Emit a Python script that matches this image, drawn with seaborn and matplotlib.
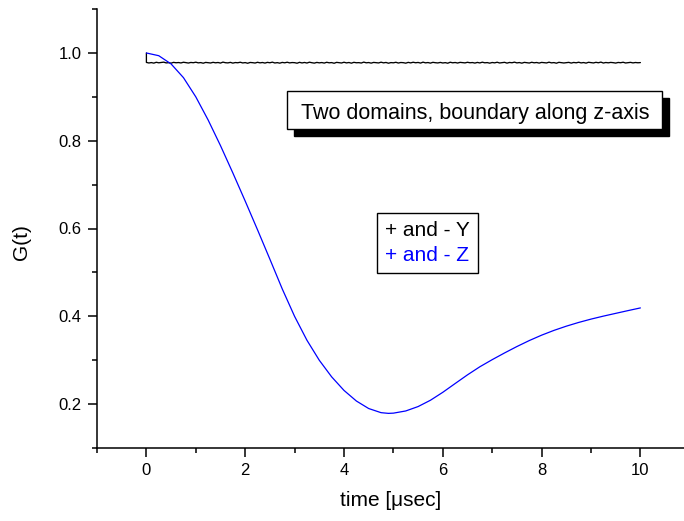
import numpy as np
import pandas as pd
import matplotlib
matplotlib.use("Agg")
import matplotlib.pyplot as plt
from matplotlib.patches import Rectangle
from matplotlib.ticker import MultipleLocator
import seaborn as sns

# ---- data ----
# "+ and - Y": flat noisy trace (first point 1.0 at t=0)
y_time = [0.0] + list(np.round(np.linspace(0, 10, 201), 2))
y_vals = [1.0,
    0.9785, 0.9772, 0.9781, 0.9769, 0.9788, 0.9776, 0.9783, 0.9791, 0.9774, 0.9779,
    0.9768, 0.9786, 0.9777, 0.9782, 0.9773, 0.9789, 0.9780, 0.9771, 0.9784, 0.9778,
    0.9790, 0.9775, 0.9781, 0.9767, 0.9785, 0.9779, 0.9772, 0.9787, 0.9776, 0.9783,
    0.9770, 0.9792, 0.9778, 0.9774, 0.9786, 0.9769, 0.9782, 0.9777, 0.9789, 0.9773,
    0.9781, 0.9766, 0.9784, 0.9779, 0.9771, 0.9788, 0.9775, 0.9783, 0.9770, 0.9786,
    0.9777, 0.9791, 0.9772, 0.9780, 0.9768, 0.9785, 0.9776, 0.9789, 0.9774, 0.9782,
    0.9779, 0.9767, 0.9787, 0.9773, 0.9784, 0.9771, 0.9790, 0.9778, 0.9769, 0.9785,
    0.9775, 0.9782, 0.9770, 0.9788, 0.9776, 0.9781, 0.9766, 0.9786, 0.9779, 0.9772,
    0.9789, 0.9774, 0.9783, 0.9768, 0.9787, 0.9777, 0.9780, 0.9771, 0.9792, 0.9776,
    0.9782, 0.9769, 0.9785, 0.9778, 0.9773, 0.9790, 0.9775, 0.9784, 0.9767, 0.9781,
    0.9776, 0.9788, 0.9771, 0.9783, 0.9779, 0.9768, 0.9786, 0.9774, 0.9789, 0.9777,
    0.9784, 0.9770, 0.9791, 0.9775, 0.9782, 0.9769, 0.9787, 0.9778, 0.9773, 0.9785,
    0.9772, 0.9780, 0.9767, 0.9789, 0.9776, 0.9783, 0.9771, 0.9786, 0.9779, 0.9774,
    0.9788, 0.9777, 0.9782, 0.9770, 0.9785, 0.9773, 0.9790, 0.9776, 0.9781, 0.9768,
    0.9783, 0.9775, 0.9789, 0.9772, 0.9780, 0.9787, 0.9769, 0.9784, 0.9777, 0.9791,
    0.9774, 0.9782, 0.9768, 0.9786, 0.9779, 0.9771, 0.9788, 0.9776, 0.9783, 0.9770,
    0.9785, 0.9778, 0.9773, 0.9790, 0.9775, 0.9781, 0.9767, 0.9787, 0.9780, 0.9772,
    0.9779, 0.9786, 0.9770, 0.9784, 0.9776, 0.9789, 0.9774, 0.9782, 0.9769, 0.9788,
    0.9781, 0.9773, 0.9787, 0.9777, 0.9792, 0.9771, 0.9783, 0.9776, 0.9785, 0.9779,
    0.9770, 0.9784, 0.9778, 0.9789, 0.9772, 0.9780, 0.9786, 0.9774, 0.9783, 0.9777, 0.9781,
]

# "+ and - Z": damped curve
z_time = [0.0, 0.25, 0.5, 0.75, 1.0, 1.25, 1.5, 1.75, 2.0, 2.25, 2.5, 2.75,
          3.0, 3.25, 3.5, 3.75, 4.0, 4.25, 4.5, 4.75, 4.9, 5.0, 5.25, 5.5, 5.75,
          6.0, 6.25, 6.5, 6.75, 7.0, 7.25, 7.5, 7.75, 8.0, 8.25, 8.5, 8.75,
          9.0, 9.25, 9.5, 9.75, 10.0]
z_vals = [1.0000, 0.9938, 0.9750, 0.9438, 0.9000, 0.8472, 0.7888, 0.7266,
          0.6625, 0.5969, 0.5300, 0.4623, 0.3997, 0.3453, 0.2997, 0.2619,
          0.2310, 0.2069, 0.1897, 0.1803, 0.1787, 0.1792, 0.1842, 0.1942,
          0.2086, 0.2267, 0.2467, 0.2665, 0.2849, 0.3011, 0.3164, 0.3310,
          0.3446, 0.3569, 0.3678, 0.3774, 0.3859, 0.3935, 0.4003, 0.4066,
          0.4129, 0.4190]

legend_labels = ["+ and - Y", "+ and - Z"]
title_text = "Two domains, boundary along z-axis"
x_label = "time [\u03bcsec]"
y_label = "G(t)"

# ---- style ----
sns.set_theme(style="ticks")
plt.rcParams["font.family"] = ["Liberation Sans", "DejaVu Sans"]

fig = plt.figure(figsize=(6.84, 5.21), dpi=100)
ax = fig.add_axes([97 / 684, (521 - 447.9) / 521, 592.8 / 684, 438.8 / 521])

dfY = pd.DataFrame({"t": y_time, "G": y_vals})
dfZ = pd.DataFrame({"t": z_time, "G": z_vals})
sns.lineplot(data=dfY, x="t", y="G", ax=ax, color="black", lw=0.95,
             estimator=None, sort=False, label=legend_labels[0])
sns.lineplot(data=dfZ, x="t", y="G", ax=ax, color="#0000ff", lw=0.9,
             estimator=None, sort=False, label=legend_labels[1])

ax.set_xlim(-1, 11)
ax.set_ylim(0.1, 1.1)
ax.xaxis.set_major_locator(MultipleLocator(2))
ax.xaxis.set_minor_locator(MultipleLocator(1))
ax.yaxis.set_major_locator(MultipleLocator(0.2))
ax.yaxis.set_minor_locator(MultipleLocator(0.1))
ax.set_xticks([0, 2, 4, 6, 8, 10])
ax.set_yticks([0.2, 0.4, 0.6, 0.8, 1.0])
ax.set_xticklabels(["0", "2", "4", "6", "8", "10"])
ax.set_yticklabels(["0.2", "0.4", "0.6", "0.8", "1.0"])

for s in ["top", "right"]:
    ax.spines[s].set_visible(False)
for s in ["left", "bottom"]:
    ax.spines[s].set_linewidth(1.1)
    ax.spines[s].set_color("black")
ax.tick_params(which="major", direction="out", length=6.5, width=1.1,
               colors="black", labelsize=12, pad=4.5)
ax.tick_params(which="minor", direction="out", length=3.6, width=1.1, colors="black")

ax.set_xlabel(x_label, fontsize=15, color="black")
ax.set_ylabel(y_label, fontsize=15, color="black")
ax.xaxis.set_label_coords(0.495, -0.098)
ax.yaxis.set_label_coords(-0.111, 0.47)

# legend
leg = ax.legend(loc="upper left", bbox_to_anchor=(0.4723, 0.5353),
                borderaxespad=0, handlelength=0, handletextpad=0,
                labelcolor="linecolor", fontsize=15, frameon=True,
                fancybox=False, edgecolor="black", framealpha=1,
                borderpad=0.38, labelspacing=0.28)
leg.get_frame().set_linewidth(1.0)
for h in leg.legend_handles:
    h.set_visible(False)

# title box with shadow
bx0, by0, bx1, by1 = 0.3205, 0.7269, 0.9531, 0.8134
dx, dy = 7.5 / 592.8, 7.5 / 438.8
ax.add_patch(Rectangle((bx0 + dx, by0 - dy), bx1 - bx0, by1 - by0,
                       transform=ax.transAxes, facecolor="black",
                       edgecolor="black", zorder=5, clip_on=False))
ax.add_patch(Rectangle((bx0, by0), bx1 - bx0, by1 - by0,
                       transform=ax.transAxes, facecolor="white",
                       edgecolor="black", lw=1.0, zorder=6, clip_on=False))
ax.text(0.6377, 0.7489, title_text, transform=ax.transAxes, ha="center",
        va="baseline", fontsize=15.5, color="black", zorder=7)

fig.savefig("out.png", dpi=100)
